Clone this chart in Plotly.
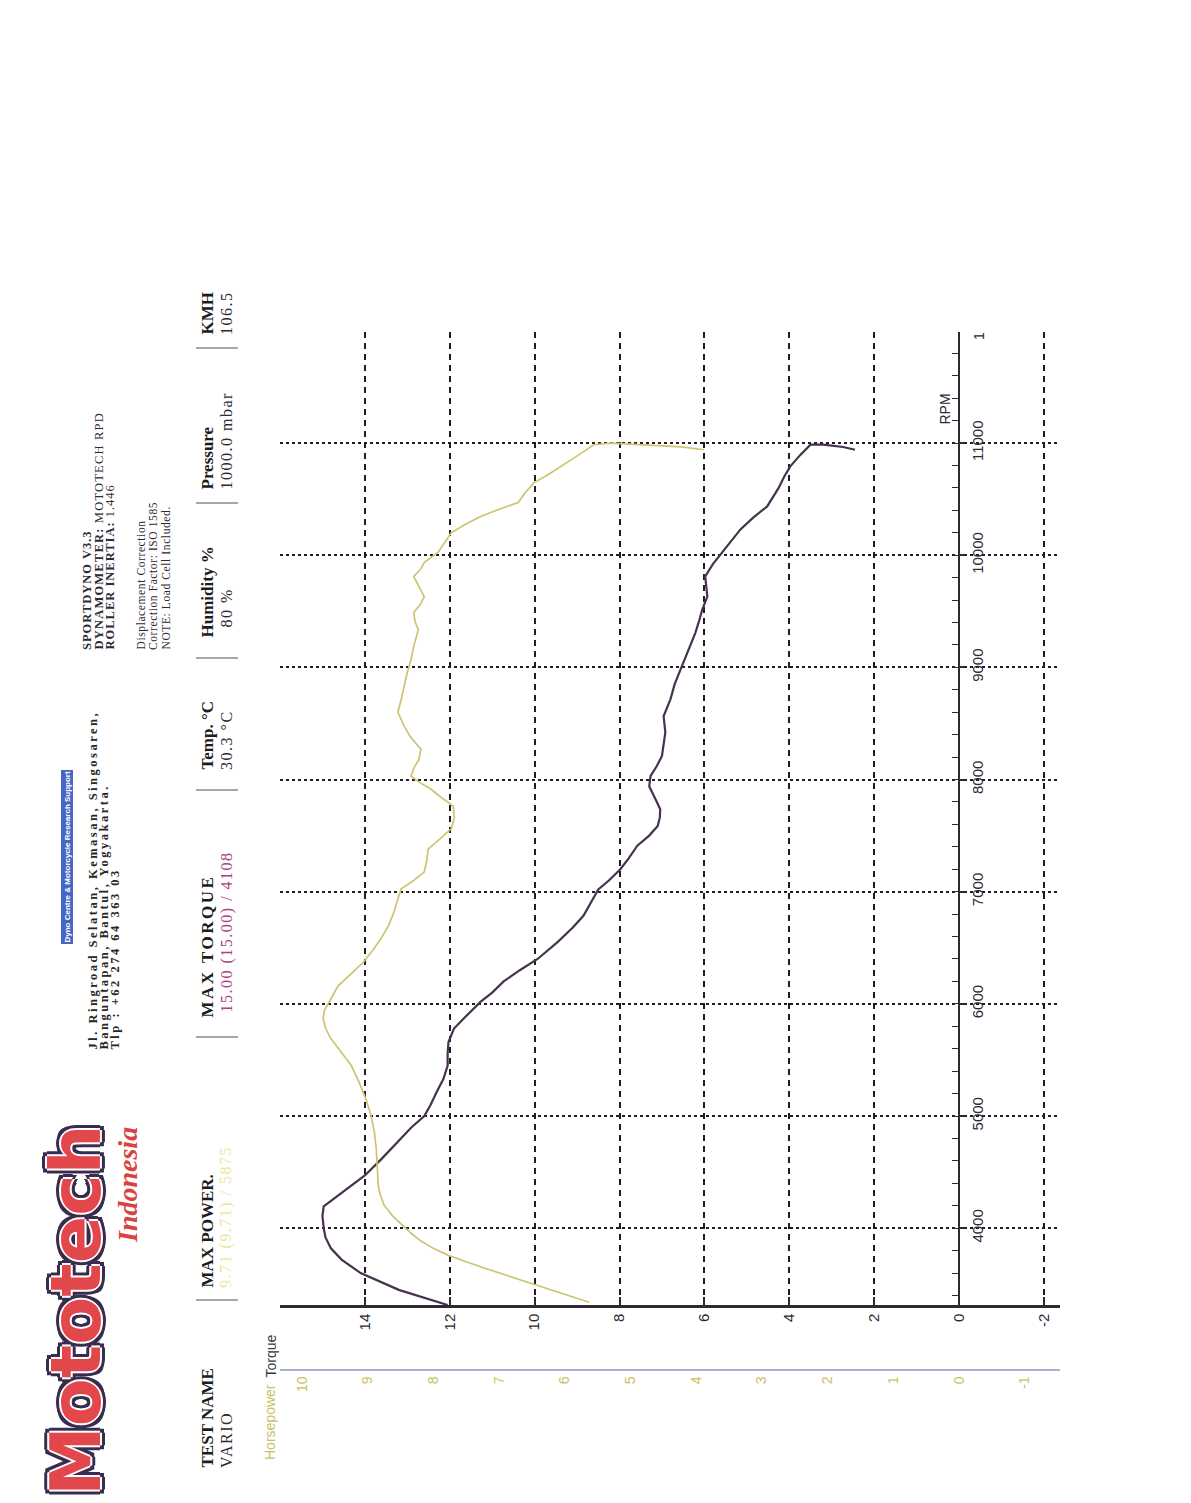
import plotly.graph_objects as go

# ---------------- data (read from the dyno sheet) ----------------
torque_rpm = [3315, 3450, 3600, 3720, 3820, 3920, 4000, 4108, 4195, 4330, 4470, 4620, 4775, 4900,
              5000, 5100, 5220, 5330, 5450, 5560, 5660, 5780, 5870, 5950, 6020, 6100, 6200, 6300,
              6400, 6550, 6680, 6785, 6900, 7020, 7100, 7200, 7300, 7410, 7500, 7585, 7660, 7735,
              7800, 7870, 7940, 8030, 8120, 8210, 8320, 8420, 8565, 8715, 8850, 9045, 9180, 9310,
              9420, 9515, 9630, 9720, 9810, 9920, 10025, 10130, 10230, 10335, 10435, 10600, 10700,
              10790, 10890, 10985, 10985, 10965, 10940]
torque_nm = [12.05, 13.2, 14.1, 14.55, 14.8, 14.93, 14.97, 15.0, 14.97, 14.5, 14.0, 13.6, 13.2, 12.9,
             12.6, 12.45, 12.3, 12.15, 12.05, 12.05, 12.03, 11.9, 11.67, 11.45, 11.27, 11.0, 10.73, 10.35,
             9.93, 9.46, 9.1, 8.85, 8.68, 8.5, 8.25, 7.98, 7.78, 7.58, 7.3, 7.1, 7.05, 7.04,
             7.12, 7.22, 7.3, 7.27, 7.12, 7.0, 6.95, 6.92, 6.96, 6.8, 6.7, 6.5, 6.35, 6.21,
             6.12, 6.05, 5.93, 5.96, 5.98, 5.8, 5.58, 5.35, 5.15, 4.85, 4.52, 4.25, 4.12,
             3.98, 3.75, 3.5, 3.2, 2.73, 2.45]

power_rpm = [3340, 3420, 3495, 3570, 3645, 3700, 3760, 3820, 3885, 3950, 4015, 4108, 4205, 4300, 4385,
             4550, 4710, 4860, 5005, 5155, 5300, 5450, 5570, 5690, 5780, 5870, 5940, 6000, 6080, 6160,
             6270, 6375, 6480, 6580, 6700, 6820, 6920, 7025, 7100, 7175, 7280, 7380, 7470, 7560, 7660,
             7765, 7840, 7915, 7970, 8030, 8100, 8180, 8270, 8380, 8480, 8600, 8715, 8830, 8950, 9070,
             9185, 9335, 9410, 9490, 9560, 9630, 9720, 9810, 9870, 9935, 10025, 10110, 10200, 10280,
             10345, 10410, 10470, 10560, 10645, 10720, 10790, 10890, 10985, 11000, 10995, 10985, 10965,
             10940]
power_hp = [5.63, 6.05, 6.47, 6.85, 7.23, 7.5, 7.78, 8.0, 8.19, 8.33, 8.45, 8.62, 8.75, 8.81, 8.84,
            8.86, 8.87, 8.9, 8.95, 9.03, 9.13, 9.25, 9.4, 9.56, 9.64, 9.68, 9.66, 9.6, 9.52, 9.45,
            9.25, 9.06, 8.92, 8.8, 8.68, 8.6, 8.55, 8.49, 8.3, 8.14, 8.1, 8.08, 7.9, 7.73, 7.68,
            7.7, 7.88, 8.04, 8.2, 8.34, 8.3, 8.22, 8.19, 8.35, 8.45, 8.54, 8.49, 8.45, 8.4, 8.34,
            8.3, 8.23, 8.28, 8.3, 8.2, 8.14, 8.22, 8.3, 8.2, 8.14, 7.93, 7.83, 7.73, 7.5,
            7.28, 7.0, 6.71, 6.6, 6.47, 6.25, 6.06, 5.8, 5.56, 5.3, 5.15, 4.8, 4.23,
            3.88]

torque_ticks = [14, 12, 10, 8, 6, 4, 2, 0, -2]
hp_ticks = [10, 9, 8, 7, 6, 5, 4, 3, 2, 1, 0, -1]
rpm_ticks = [4000, 5000, 6000, 7000, 8000, 9000, 10000, 11000]

header_labels = ["TEST NAME", "MAX POWER.", "MAX TORQUE", "Temp. °C", "Humidity %", "Pressure", "KMH"]
header_values = ["VARIO", "9.71 (9.71) / 5875", "15.00 (15.00) / 4108", "30.3 °C", "80 %", "1000.0 mbar", "106.5"]

# ---------------- layout geometry ----------------
OFF = 8                      # page body margin in the browser
W, H = 1191, 1503
L, R = 280 - OFF, 1191 - (1060 - OFF)
T = 332 - OFF
B = H - (1370 - OFF)
PW, PH = W - L - R, H - T - B
TQ_RANGE = [16, -2.38]
HP_RANGE = [10.335, -1.537]
RPM_RANGE = [3315, 11990]


def fx(px):
    return (px - OFF - L) / PW


def fy(py):
    return (H - B - (py - OFF)) / PH


DARK = "#2e2a33"
TQ_COL = "#46324f"
HP_COL = "#cdc471"
SANS = "Liberation Sans, Arial, sans-serif"
SERIF = "Liberation Serif, Times New Roman, serif"

fig = go.Figure()
fig.add_trace(go.Scatter(x=power_hp, y=power_rpm, xaxis="x2", yaxis="y", mode="lines",
                         line=dict(color=HP_COL, width=1.7), name="Horsepower"))
fig.add_trace(go.Scatter(x=torque_nm, y=torque_rpm, xaxis="x", yaxis="y", mode="lines",
                         line=dict(color=TQ_COL, width=2.2), name="Torque"))

zero_frac = (TQ_RANGE[0] - 0) / (TQ_RANGE[0] - TQ_RANGE[1])

fig.update_layout(
    width=W, height=H,
    margin=dict(l=L, r=R, t=T, b=B, pad=0, autoexpand=False),
    paper_bgcolor="white", plot_bgcolor="white",
    showlegend=False,
    xaxis=dict(range=TQ_RANGE, domain=[0, 1], anchor="y", side="bottom",
               tickmode="array", tickvals=torque_ticks, ticktext=[str(v) for v in torque_ticks],
               tickangle=-90, tickfont=dict(family=SANS, size=15, color=DARK),
               ticks="inside", ticklen=8, tickwidth=1.5, tickcolor=DARK,
               showline=True, linecolor=DARK, linewidth=2.5,
               showgrid=True, gridcolor="#1e1e1e", gridwidth=2, griddash="6px,5px",
               zeroline=False, automargin=False),
    xaxis2=dict(range=HP_RANGE, overlaying="x", anchor="free", position=0, side="bottom",
                tickmode="array", tickvals=hp_ticks, ticktext=[str(v) for v in hp_ticks],
                tickangle=-90, tickfont=dict(family=SANS, size=14, color="#cbc263"),
                ticks="", showline=True, linecolor="#a9aed2", linewidth=1.5,
                showgrid=False, zeroline=False, automargin=False),
    yaxis=dict(range=RPM_RANGE, domain=[fy(1305), 1], anchor="free", position=zero_frac,
               side="right", tickmode="array", tickvals=rpm_ticks,
               ticktext=[str(v) for v in rpm_ticks],
               tickangle=-90, tickfont=dict(family=SANS, size=15, color=DARK),
               ticks="outside", ticklen=5, tickwidth=1.5, tickcolor=DARK,
               minor=dict(tickmode="linear", tick0=0, dtick=200, ticks="inside", ticklen=6,
                          tickwidth=1.2, tickcolor=DARK, showgrid=False),
               showline=True, linecolor=DARK, linewidth=2,
               showgrid=True, gridcolor="#1e1e1e", gridwidth=2.2, griddash="3px,3px",
               zeroline=False, automargin=False),
)

ann = []


def add_text(text, px, py, size, color=DARK, family=SERIF, xanchor="center", yanchor="bottom",
             angle=-90, spacing=None, **kw):
    if spacing:
        text = '<span style="letter-spacing:%spx">%s</span>' % (spacing, text)
    d = dict(text=text, x=fx(px), y=fy(py), xref="paper", yref="paper", showarrow=False,
             textangle=angle, xanchor=xanchor, yanchor=yanchor,
             font=dict(family=family, size=size, color=color))
    d.update(kw)
    ann.append(d)


# axis titles
add_text("Torque", 270, 1380, 14, color="#3a3a3a", family=SANS)
add_text("Horsepower", 270, 1462, 14, color="#cbc263", family=SANS)
add_text("RPM", 945, 427, 14, color=DARK, family=SANS)
add_text("1", 979, 342, 14, color=DARK, family=SANS)

# header row
label_bottoms = [1470, 1290, 1020, 772, 640, 492, 337]
value_bottoms = [1470, 1290, 1015, 772, 630, 492, 337]
value_colors = [DARK, "#ece79a", "#a8427e", DARK, DARK, DARK, DARK]
label_spacing = [None, None, 2.5, None, None, None, None]
for lab, val, yb, yv, vc, ls in zip(header_labels, header_values, label_bottoms, value_bottoms,
                                    value_colors, label_spacing):
    add_text("<b>%s</b>" % lab, 207, yb, 17, color="#1c1c1c", spacing=ls)
    add_text(val, 226, yv, 16, color=vc, spacing=1.5)

# separators in header
shapes = []
for sy in [1300, 1037, 790, 658, 503, 348]:
    shapes.append(dict(type="line", xref="paper", yref="paper",
                       x0=fx(196), x1=fx(238), y0=fy(sy), y1=fy(sy),
                       line=dict(color="#8a8a8a", width=1.5)))

# dyno info (top right)
add_text("<b>SPORTDYNO V3.3</b>", 87, 652, 12.5, spacing=1)
add_text("<b>DYNAMOMETER:</b> MOTOTECH RPD", 98, 652, 12.5, spacing=1.2)
add_text("<b>ROLLER INERTIA:</b> 1.446", 109, 652, 12.5, spacing=1)
add_text("Displacement Correction", 141, 652, 11.5, spacing=0.6)
add_text("Correction Factor: ISO 1585", 153, 652, 11.5, spacing=0.6)
add_text("NOTE: Load Cell Included.", 165, 652, 11.5, spacing=0.6)

# address block
add_text("<b>Jl. Ringroad Selatan, Kemasan, Singosaren,</b>", 92, 1052, 12.5, color="#262626", spacing=2.5)
add_text("<b>Banguntapan, Bantul, Yogyakarta.</b>", 103, 1052, 12.5, color="#262626", spacing=2.5)
add_text("<b>Tlp : +62 274 64 363 03</b>", 114, 1052, 12.5, color="#262626", spacing=2.5)
add_text("<b>Dyno Centre & Motorcycle Research Support</b>", 67, 945, 8, color="white",
         family=SANS, bgcolor="#4766c4", borderpad=1)

# logo
ann.append(dict(text="<b>Mototech</b>", x=fx(76), y=fy(1498), xref="paper", yref="paper",
                showarrow=False, textangle=-90, xanchor="center", yanchor="bottom",
                font=dict(family="DejaVu Sans, sans-serif", size=70, color="#e2474b",
                          shadow=("2px 0 0 #fff, -2px 0 0 #fff, 0 2px 0 #fff, 0 -2px 0 #fff, "
                                  "5px 0 0 #3a2c4e, -5px 0 0 #3a2c4e, 0 5px 0 #3a2c4e, 0 -5px 0 #3a2c4e, "
                                  "4px 4px 0 #3a2c4e, -4px -4px 0 #3a2c4e, 4px -4px 0 #3a2c4e, -4px 4px 0 #3a2c4e"))))
add_text("<b><i>Indonesia</i></b>", 127, 1245, 28, color="#d9433f")

fig.update_layout(annotations=ann, shapes=shapes)

fig.write_html("out.html")
